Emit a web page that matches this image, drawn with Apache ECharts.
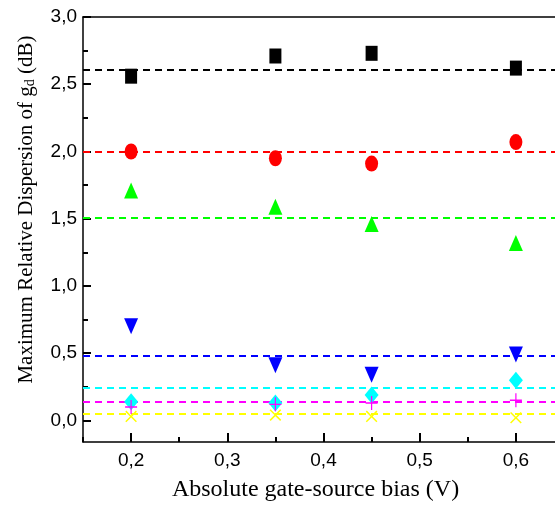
<!DOCTYPE html>
<html lang="en">
<head>
    <meta charset="UTF-8"/>
    <title>gd dispersion</title>
    <script src="https://cdn.jsdelivr.net/npm/echarts@6/dist/echarts.min.js"></script>
</head>
<body style="margin:0;overflow:hidden">
<!-- plot box runs a little past the right edge of the window, as in the original figure -->
<div id="main" style="width:564px;height:512px"></div>

<script type="text/javascript">
    // gate-source bias (V)
    var bias = [0.2, 0.35, 0.45, 0.6];
    // max relative dispersion (dB), one list per device / frequency
    var blackSq   = [2.56, 2.71, 2.73, 2.62];
    var redCirc   = [2.00, 1.95, 1.91, 2.07];
    var greenTri  = [1.71, 1.59, 1.46, 1.32];
    var blueTri   = [0.70, 0.41, 0.34, 0.49];
    var cyanDia   = [0.14, 0.13, 0.19, 0.30];
    var magPlus   = [0.10, 0.12, 0.13, 0.15];
    var yelCross  = [0.03, 0.04, 0.03, 0.02];
    // mean values (dashed lines)
    var means = [2.61, 2.00, 1.51, 0.48, 0.24, 0.135, 0.05];

    var yMajor = [0, 0.5, 1, 1.5, 2, 2.5, 3];
    var yMinor = [0.25, 0.75, 1.25, 1.75, 2.25, 2.75];
    var xMajor = [0.2, 0.3, 0.4, 0.5, 0.6];
    var xMinor = [0.15, 0.25, 0.35, 0.45, 0.55];

    var colors = ['#000000', '#ff0000', '#00ff00', '#0000ff', '#00ffff', '#ff00ff', '#ffff00'];
    var plusPath = 'path://M-1,-10 L1,-10 L1,-1 L10,-1 L10,1 L1,1 L1,10 L-1,10 L-1,1 L-10,1 L-10,-1 L-1,-1 Z';

    function comma(v) { return v.toFixed(1).replace('.', ','); }
    function pairs(ys) { return bias.map(function (x, i) { return [x, ys[i]]; }); }

    var sets = [
        {d: blackSq,  sym: 'rect',     size: [12, 15], rot: 0},
        {d: redCirc,  sym: 'circle',   size: [13, 16], rot: 0},
        {d: greenTri, sym: 'triangle', size: [14, 16], rot: 0},
        {d: blueTri,  sym: 'triangle', size: [14, 16], rot: 180},
        {d: cyanDia,  sym: 'diamond',  size: [14, 17], rot: 0},
        {d: magPlus,  sym: plusPath,   size: [12, 14], rot: 0},
        {d: yelCross, sym: plusPath,   size: [15, 15], rot: 45}
    ];

    var series = sets.map(function (s, i) {
        return {
            type: 'scatter',
            data: pairs(s.d),
            symbol: s.sym,
            symbolSize: s.size,
            symbolRotate: s.rot,
            itemStyle: {color: colors[i], opacity: 1},
            z: 3,
            markLine: {
                silent: true,
                symbol: 'none',
                label: {show: false},
                z: 1,
                lineStyle: {color: colors[i], type: [7, 5], width: 2, opacity: 1},
                data: [{yAxis: means[i]}]
            }
        };
    });

    var lab = {fontFamily: 'Liberation Sans', fontSize: 19, color: '#000'};
    var plotH = 512 - 17 - 70, plotW = 564 - 83;
    var myChart = echarts.init(document.getElementById('main'));
    var option = {
        animation: false,
        grid: {left: 83, top: 17, right: 0, bottom: 70},
        xAxis: [{
            type: 'value', min: 0.15, max: 0.65,
            name: 'Absolute gate-source bias (V)',
            nameLocation: 'middle', nameGap: 36,
            nameTextStyle: {fontFamily: 'Liberation Serif', fontSize: 24, color: '#000', padding: [0, 16, 0, 0]},
            axisLine: {show: true, onZero: false, lineStyle: {color: '#000', width: 1.5}},
            axisTick: {show: true, inside: true, length: 9, customValues: xMajor, lineStyle: {color: '#000', width: 2}},
            axisLabel: Object.assign({margin: 9, customValues: xMajor, formatter: comma}, lab),
            splitLine: {show: false}
        }, {
            // short ticks: top axis pulled down onto the bottom edge
            type: 'value', min: 0.15, max: 0.65, position: 'top', offset: -plotH,
            axisLine: {show: false, onZero: false},
            axisTick: {show: true, inside: false, length: 5, customValues: xMinor, lineStyle: {color: '#000', width: 2}},
            axisLabel: {show: false},
            splitLine: {show: false}
        }, {
            // top frame line
            type: 'value', min: 0.15, max: 0.65, position: 'top',
            axisLine: {show: true, onZero: false, lineStyle: {color: '#000', width: 1.5}},
            axisTick: {show: false},
            axisLabel: {show: false},
            splitLine: {show: false}
        }],
        yAxis: [{
            type: 'value', min: -0.16, max: 3,
            name: 'Maximum Relative Dispersion of {g|g}{s|d} (dB)',
            nameLocation: 'middle', nameGap: 46,
            nameTextStyle: {
                fontFamily: 'Liberation Serif', fontSize: 21, color: '#000', padding: [0, 0, 0, 40],
                rich: {
                    g: {fontFamily: 'Liberation Serif', fontSize: 21, color: '#000'},
                    s: {fontFamily: 'Liberation Serif', fontSize: 14, color: '#000', padding: [8, 0, 0, 0]}
                }
            },
            axisLine: {show: true, onZero: false, lineStyle: {color: '#000', width: 1.5}},
            axisTick: {show: true, inside: true, length: 8, customValues: yMajor, lineStyle: {color: '#000', width: 2}},
            axisLabel: Object.assign({margin: 6, customValues: yMajor, formatter: comma}, lab),
            splitLine: {show: false}
        }, {
            // short ticks: right axis pulled over onto the left edge
            type: 'value', min: -0.16, max: 3, position: 'right', offset: -plotW,
            axisLine: {show: false, onZero: false},
            axisTick: {show: true, inside: false, length: 5, customValues: yMinor, lineStyle: {color: '#000', width: 2}},
            axisLabel: {show: false},
            splitLine: {show: false}
        }],
        series: series
    };
    myChart.setOption(option);
</script>
</body>
</html>
